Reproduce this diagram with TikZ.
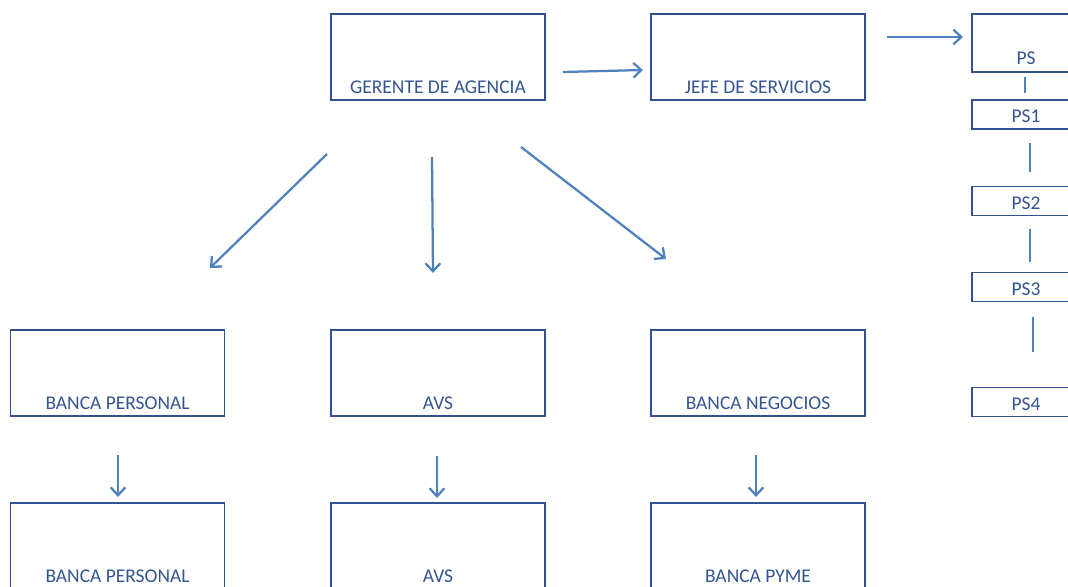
\documentclass[tikz,border=0pt]{standalone}
\usepackage{fontspec}
\setmainfont{Carlito}
\usetikzlibrary{arrows.meta}
\definecolor{boxline}{RGB}{47,82,143}
\definecolor{arrowcol}{RGB}{79,129,189}
\definecolor{txtcol}{RGB}{52,84,145}
\tikzset{
  bigbox/.style={draw=boxline,line width=1.1pt,rectangle,minimum width=160.5pt,minimum height=64.5pt,inner sep=0pt},
  psbox/.style={draw=boxline,line width=1.1pt,rectangle,minimum width=81pt,minimum height=43.5pt,inner sep=0pt},
  smallbox/.style={draw=boxline,line width=1.1pt,rectangle,minimum width=81pt,minimum height=21.5pt,inner sep=0pt},
  lbl/.style={anchor=base,inner sep=0pt,text=txtcol,font=\fontsize{14.6}{17}\selectfont},
  arr/.style={draw=arrowcol,line width=1.7pt,-{Straight Barb[length=6pt,width=11pt,line width=1.7pt]}},
  conn/.style={draw=arrowcol,line width=1.7pt}
}
\begin{document}
\begin{tikzpicture}[x=0.75pt,y=-0.75pt]
\useasboundingbox (0,0) rectangle (1068,586);
\clip (0,0) rectangle (1068,586);
% top row
\node[bigbox] (ger) at (438,57) {};
\node[lbl] (gerl) at ([yshift=5.25pt]ger.south) {GERENTE DE AGENCIA};
\node[bigbox] (jefe) at (758,57) {};
\node[lbl] (jefel) at ([yshift=5.25pt]jefe.south) {JEFE DE SERVICIOS};
% PS column
\node[psbox] (ps) at (1026,43) {};
\node[lbl] (psl) at ([yshift=6pt]ps.south) {PS};
\node[smallbox] (ps1) at (1026,114.5) {};
\node[lbl] (ps1l) at ([yshift=5.25pt]ps1.south) {PS1};
\node[smallbox] (ps2) at (1026,201) {};
\node[lbl] (ps2l) at ([yshift=5.25pt]ps2.south) {PS2};
\node[smallbox] (ps3) at (1026,287) {};
\node[lbl] (ps3l) at ([yshift=5.25pt]ps3.south) {PS3};
\node[smallbox] (ps4) at (1026,402) {};
\node[lbl] (ps4l) at ([yshift=5.25pt]ps4.south) {PS4};
% second row
\node[bigbox] (bp) at (117.5,373) {};
\node[lbl] (bpl) at ([yshift=5.25pt]bp.south) {BANCA PERSONAL};
\node[bigbox] (avs) at (438,373) {};
\node[lbl] (avsl) at ([yshift=5.25pt]avs.south) {AVS};
\node[bigbox] (neg) at (758,373) {};
\node[lbl] (negl) at ([yshift=5.25pt]neg.south) {BANCA NEGOCIOS};
% third row
\node[bigbox] (bp2) at (117.5,546) {};
\node[lbl] (bp2l) at ([yshift=5.25pt]bp2.south) {BANCA PERSONAL};
\node[bigbox] (avs2) at (438,546) {};
\node[lbl] (avs2l) at ([yshift=5.25pt]avs2.south) {AVS};
\node[bigbox] (pyme) at (758,546) {};
\node[lbl] (pymel) at ([yshift=5.25pt]pyme.south) {BANCA PYME};
% arrow end points
\coordinate (a1s) at (563,72);  \coordinate (a1e) at (643,70);
\coordinate (a2s) at (887,37);  \coordinate (a2e) at (963,37);
\coordinate (a3s) at (327,154); \coordinate (a3e) at (210,268);
\coordinate (a4s) at (432,157); \coordinate (a4e) at (433,273);
\coordinate (a5s) at (521,147); \coordinate (a5e) at (666,259);
\coordinate (a6s) at (118,455); \coordinate (a6e) at (118,497);
\coordinate (a7s) at (437,456); \coordinate (a7e) at (437,498);
\coordinate (a8s) at (756,455); \coordinate (a8e) at (756,497);
\draw[arr] (a1s) -- (a1e);
\draw[arr] (a2s) -- (a2e);
\draw[arr] (a3s) -- (a3e);
\draw[arr] (a4s) -- (a4e);
\draw[arr] (a5s) -- (a5e);
\draw[arr] (a6s) -- (a6e);
\draw[arr] (a7s) -- (a7e);
\draw[arr] (a8s) -- (a8e);
% PS connecting lines
\coordinate (l1s) at (1025,77);  \coordinate (l1e) at (1025,93);
\coordinate (l2s) at (1030,143); \coordinate (l2e) at (1030,172);
\coordinate (l3s) at (1030,229); \coordinate (l3e) at (1030,262);
\coordinate (l4s) at (1033,317); \coordinate (l4e) at (1033,352);
\draw[conn] (l1s) -- (l1e);
\draw[conn] (l2s) -- (l2e);
\draw[conn] (l3s) -- (l3e);
\draw[conn] (l4s) -- (l4e);
\end{tikzpicture}
\end{document}
